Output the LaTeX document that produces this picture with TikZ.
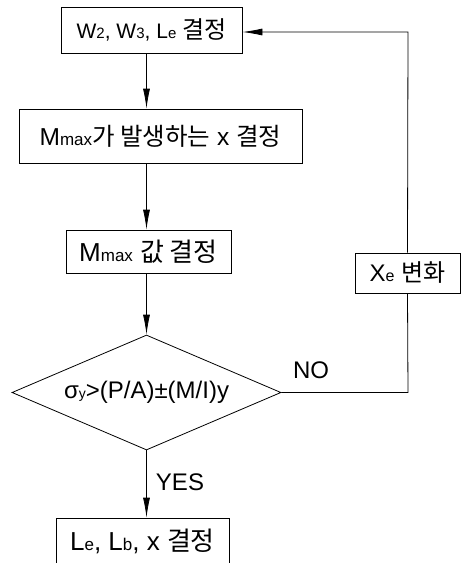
\documentclass[tikz,border=0pt]{standalone}
\usepackage{fontspec}
\setmainfont{Liberation Sans}
\newfontfamily\kr{Noto Sans CJK KR}
\usetikzlibrary{shapes.geometric,arrows.meta}
\newcommand\lo[2]{{\fontsize{#1}{#1}\selectfont #2}}
\tikzset{
  box/.style={draw, line width=0.8pt, inner sep=0pt, align=center},
  conn/.style={line width=0.8pt},
  arr/.style={conn, -{Latex[length=20pt,width=7pt]}},
  lbl/.style={font=\fontsize{24}{24}\selectfont, inner sep=0pt}
}
\begin{document}
\begin{tikzpicture}[x=1pt,y=-1pt]
\useasboundingbox (0,0) rectangle (461,563);
\node[box, minimum width=181pt, minimum height=46pt, font=\fontsize{21}{21}\selectfont] (b1) at (151.5,30)
  {W\lo{15}{2}, W\lo{15}{3}, L\lo{15}{e} {\kr\fontsize{24}{24}\selectfont 결정}};
\node[box, minimum width=283pt, minimum height=54pt, font=\fontsize{24.5}{24.5}\selectfont] (b2) at (160.5,136)
  {M\lo{17}{max}{\kr 가 발생하는} x {\kr 결정}};
\node[box, minimum width=165pt, minimum height=43pt, font=\fontsize{26}{26}\selectfont] (b3) at (148.5,251.5)
  {M\lo{17}{max} {\kr 값 결정}};
\node[box, diamond, aspect=2.3, minimum width=269pt, minimum height=115pt, font=\fontsize{24}{24}\selectfont] (dia) at (146.5,392.5)
  {σ\lo{14}{y}>(P/A)±(M/I)y};
\node[box, minimum width=105pt, minimum height=40pt, font=\fontsize{24}{24}\selectfont] (bx) at (407.5,273)
  {X\lo{16}{e} {\kr 변화}};
\node[box, minimum width=173pt, minimum height=46pt, font=\fontsize{26}{26}\selectfont] (b5) at (142.5,541)
  {L\lo{17}{e}, L\lo{17}{b}, x {\kr 결정}};
\coordinate (cr) at (408,392.5);
\coordinate (tr) at (408,32);
\draw[arr] (b1.south -| dia.north) -- (b2.north -| dia.north);
\draw[arr] (b2.south -| dia.north) -- (b3.north -| dia.north);
\draw[arr] (b3.south -| dia.north) -- (dia.north);
\draw[arr] (dia.south) -- (b5.north -| dia.south);
\draw[conn] (dia.east) -- (cr) -- (bx.south);
\draw[arr] (bx.north) -- (tr) -- (b1.east |- tr);
\node[lbl] (no) at (311,370) {NO};
\node[lbl] (yes) at (180,482) {YES};
\end{tikzpicture}
\end{document}
